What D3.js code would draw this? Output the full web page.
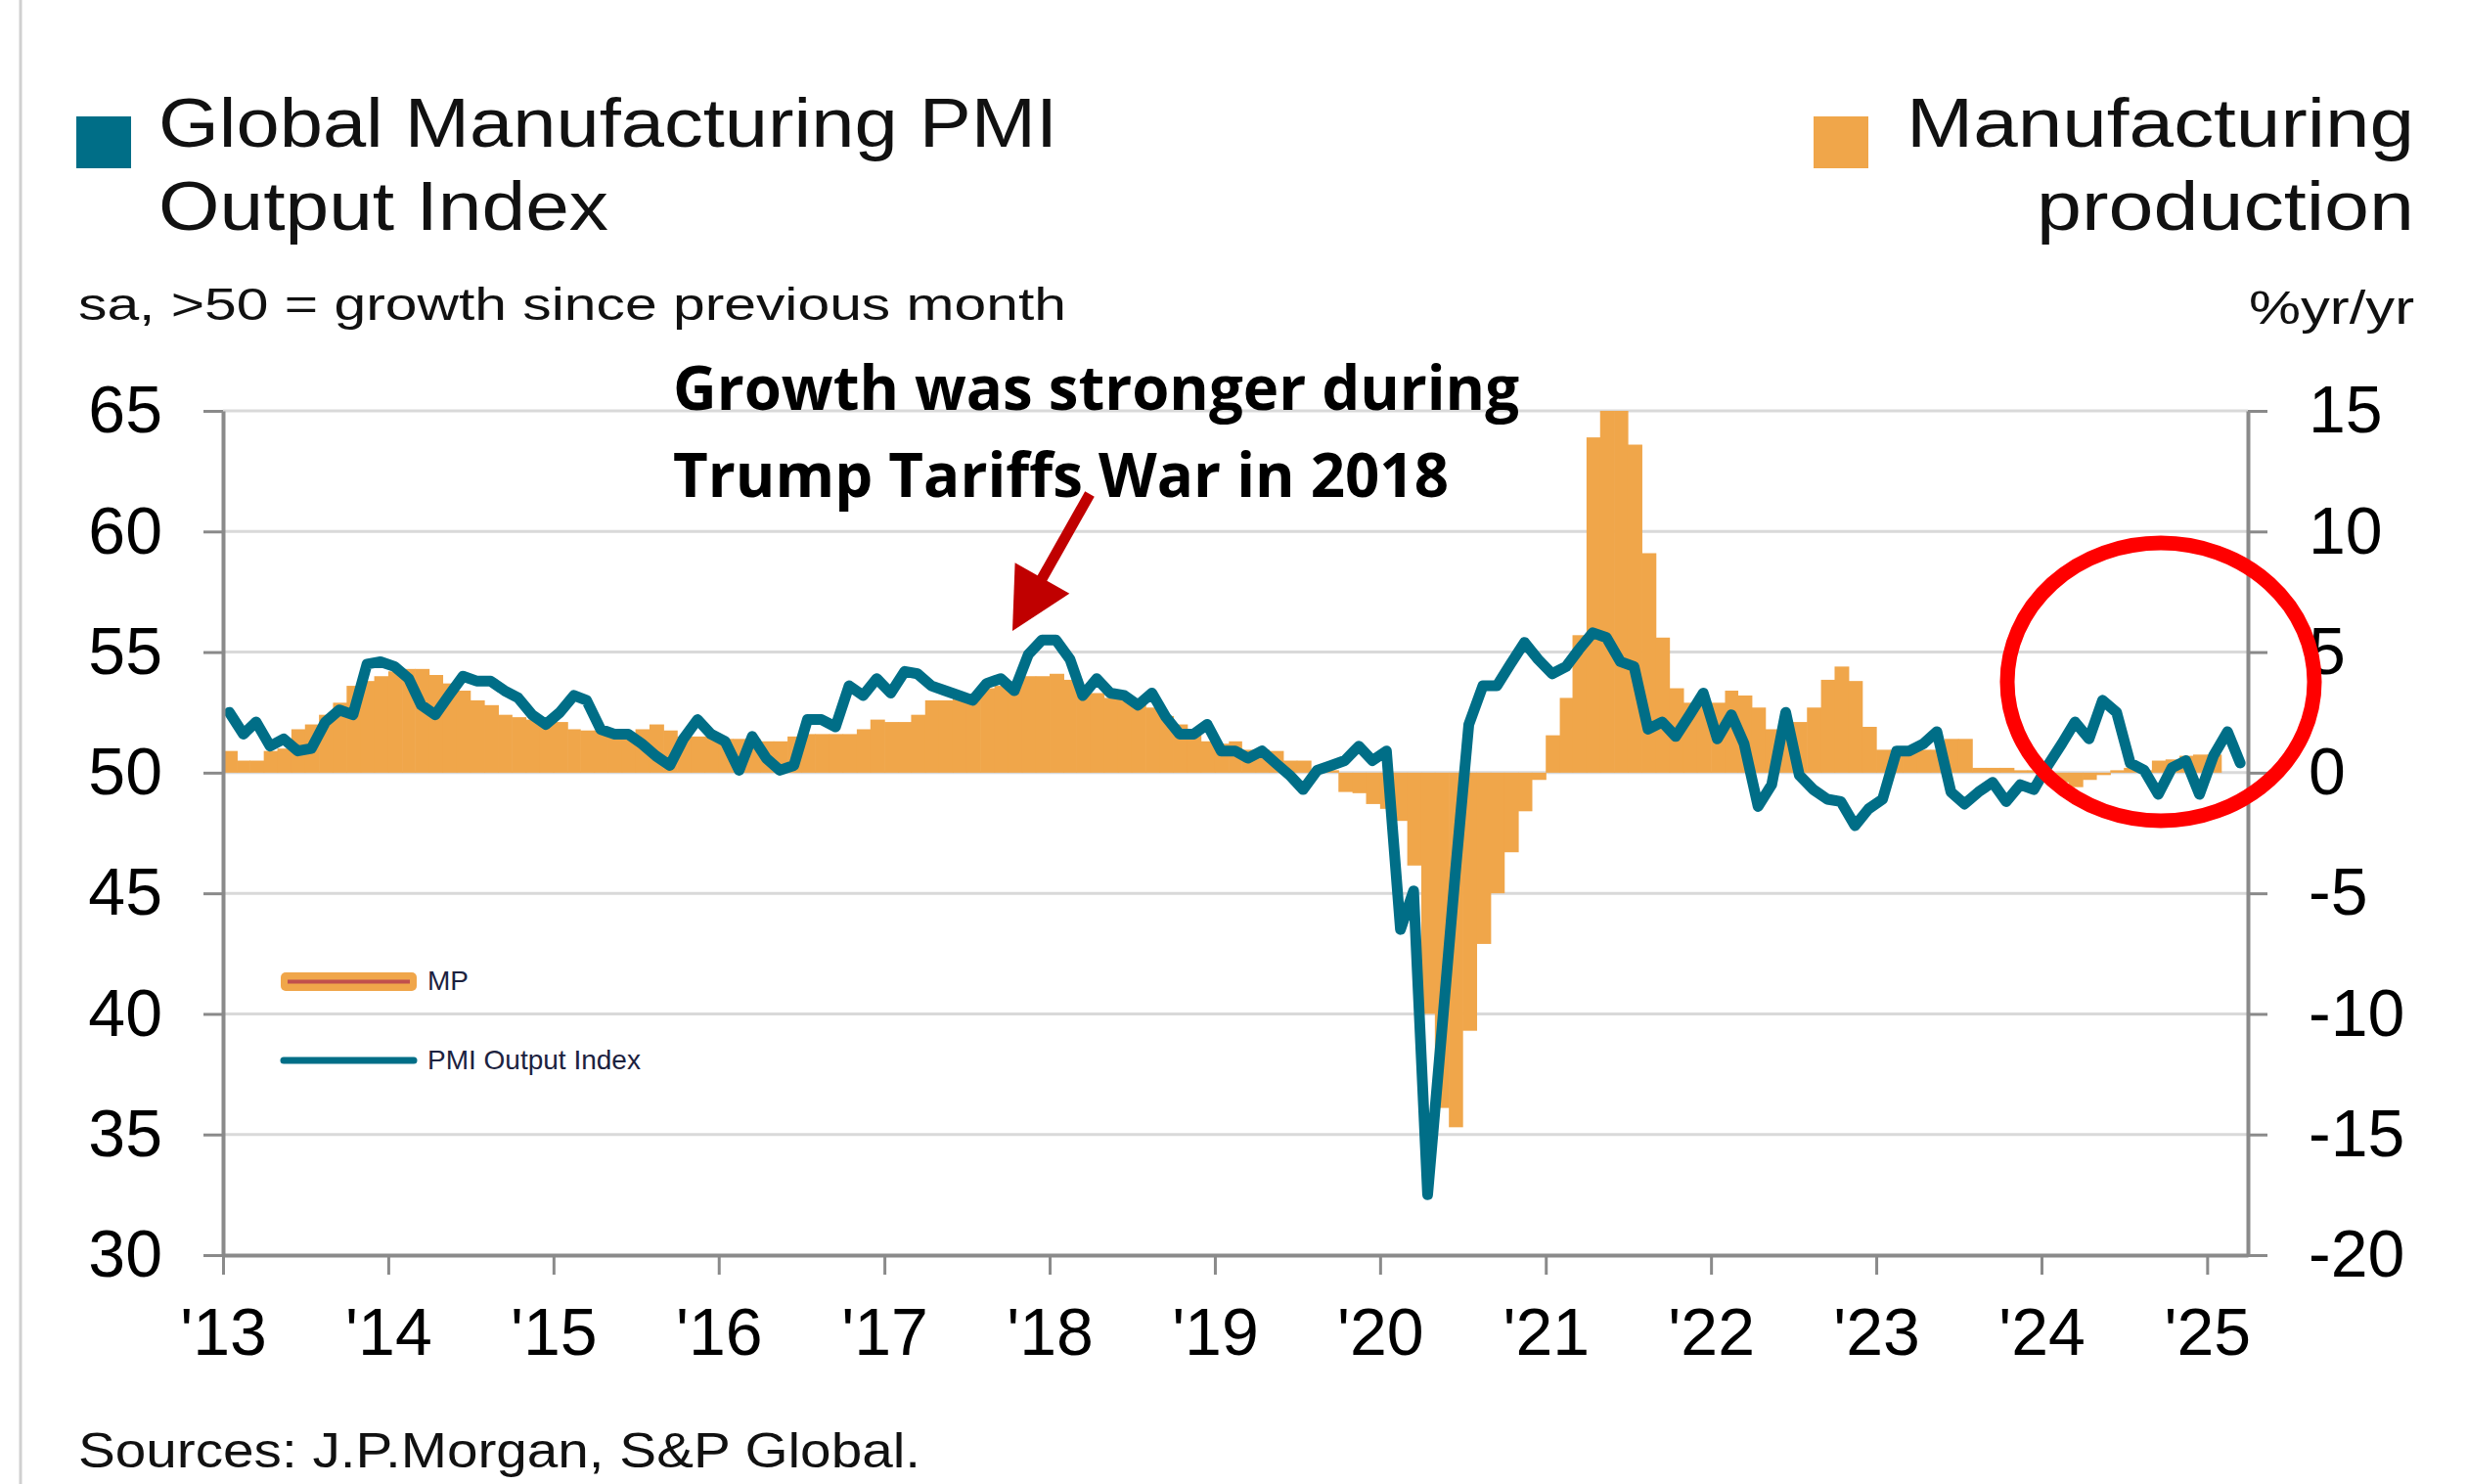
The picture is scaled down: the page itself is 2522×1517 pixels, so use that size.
<!DOCTYPE html>
<html>
<head>
<meta charset="utf-8">
<title>Global Manufacturing PMI Output Index vs Manufacturing production</title>
<script src="https://d3js.org/d3.v7.min.js"></script>
<style>
	html, body{margin:0;padding:0;background:#ffffff;}
	svg{display:block;}
	.tick text{font-family:"Liberation Sans", Arial, sans-serif;font-size:68px;fill:#000000;}
	.head{font-family:"Liberation Sans", Arial, sans-serif;fill:#111111;}
	.anno{font-family:"Open Sans", "Noto Sans", sans-serif;font-weight:700;fill:#000000;}
	.key{font-family:"Liberation Sans", Arial, sans-serif;font-size:28px;fill:#1c2240;}
</style>
</head>
<body>
<div id="PMIWrap"></div>
<script>
(function(){

	//DATA -- monthly, first value = Jan 2013
	var startYear = 2013;

	//J.P.Morgan Global Manufacturing PMI Output Index (sa, left axis), Jan 2013 - Mar 2025
	var pmiOutput = [
		52.5, 51.6, 52.1, 51.1, 51.4, 50.9, 51.0, 52.1, 52.6, 52.4, 54.5, 54.6,
		54.4, 53.9, 52.8, 52.4, 53.2, 54.0, 53.8, 53.8, 53.4, 53.1, 52.4, 52.0,
		52.5, 53.2, 53.0, 51.8, 51.6, 51.6, 51.2, 50.7, 50.3, 51.4, 52.2, 51.6,
		51.3, 50.1, 51.5, 50.6, 50.1, 50.3, 52.2, 52.2, 51.9, 53.6, 53.2, 53.9,
		53.3, 54.2, 54.1, 53.6, 53.4, 53.2, 53.0, 53.7, 53.9, 53.4, 54.9, 55.5,
		55.5, 54.7, 53.2, 53.9, 53.3, 53.2, 52.8, 53.3, 52.3, 51.6, 51.6, 52.0,
		50.9, 50.9, 50.6, 50.9, 50.4, 49.9, 49.3, 50.1, 50.3, 50.5, 51.1, 50.5,
		50.9, 43.5, 45.1, 32.5, 39.0, 45.8, 52.0, 53.6, 53.6, 54.5, 55.4, 54.7,
		54.1, 54.4, 55.1, 55.8, 55.6, 54.6, 54.4, 51.8, 52.1, 51.5, 52.4, 53.3,
		51.4, 52.4, 51.2, 48.6, 49.5, 52.5, 49.9, 49.3, 48.9, 48.8, 47.8, 48.5,
		48.9, 50.9, 50.9, 51.2, 51.7, 49.2, 48.7, 49.2, 49.6, 48.8, 49.5, 49.3,
		50.3, 51.2, 52.1, 51.4, 53.0, 52.5, 50.4, 50.1, 49.1, 50.2, 50.5, 49.1,
		50.7, 51.7, 50.4
	];

	//Manufacturing production, %yr/yr (right axis), Jan 2013 - Jan 2025
	var mfgProduction = [
		0.9, 0.5, 0.5, 0.9, 1.0, 1.8, 2.0, 2.4, 2.9, 3.6, 3.8, 4.0,
		4.2, 4.3, 4.3, 4.05, 3.7, 3.4, 3.0, 2.8, 2.4, 2.3, 2.2, 2.2,
		2.1, 1.8, 1.75, 1.75, 1.6, 1.6, 1.8, 2.0, 1.75, 1.5, 1.5, 1.5,
		1.4, 1.4, 1.4, 1.3, 1.3, 1.5, 1.6, 1.6, 1.6, 1.6, 1.8, 2.2,
		2.1, 2.1, 2.4, 3.0, 3.0, 3.2, 3.2, 3.5, 3.6, 3.6, 4.0, 4.0,
		4.1, 3.85, 3.45, 3.3, 3.1, 3.1, 3.0, 2.7, 2.35, 2.0, 1.6, 1.3,
		1.2, 1.3, 0.95, 0.95, 0.9, 0.5, 0.5, 0.1, 0.1, -0.8, -0.85, -1.3,
		-1.5, -2.0, -3.85, -10.0, -13.9, -14.7, -10.7, -7.1, -5.0, -3.3, -1.6, -0.3,
		1.55, 3.1, 5.7, 13.9, 15.0, 15.0, 13.6, 9.1, 5.6, 3.5, 2.9, 2.8,
		2.9, 3.4, 3.2, 2.7, 1.8, 2.1, 2.1, 2.7, 3.85, 4.4, 3.8, 1.9,
		0.95, 0.95, 0.95, 0.95, 0.95, 1.4, 1.4, 0.2, 0.2, 0.2, 0.1, 0.1,
		-0.2, -0.4, -0.6, -0.3, -0.1, 0.1, 0.2, 0.1, 0.5, 0.55, 0.7, 0.75,
		0.75
	];

	var leftTicks = [30, 35, 40, 45, 50, 55, 60, 65];
	var rightTicks = [-20, -15, -10, -5, 0, 5, 10, 15];
	var yearLabels = ["'13", "'14", "'15", "'16", "'17", "'18", "'19", "'20", "'21", "'22", "'23", "'24", "'25"];

	var COLORS = {pmi:"#006e87", mp:"#f0a64a", axis:"#8a8a8a", grid:"#d9d9d9", ring:"#ff0000", arrow:"#c00000"};

	var W = 2522, H = 1517;
	var PLOT = {left:228, right:2298, top:420, bottom:1283};

	var monthDate = function(i, day){
		return new Date(startYear, i, day);
	}

	var DOM = {};
	DOM.SVG = d3.select("#PMIWrap").append("svg").attr("width", W).attr("height", H);
	DOM.SVG.append("rect").attr("width", W).attr("height", H).attr("fill", "#ffffff");

	//page edge rule on the left
	DOM.SVG.append("line").attr("x1", 21).attr("x2", 21).attr("y1", 0).attr("y2", H)
		.attr("stroke", "#d0d0d0").attr("stroke-width", 3);

	var x = d3.scaleTime()
		.domain([monthDate(0, 1), monthDate(pmiOutput.length, 1)])
		.range([PLOT.left, PLOT.right]);
	var yL = d3.scaleLinear().domain([30, 65]).range([PLOT.bottom, PLOT.top]);
	var yR = d3.scaleLinear().domain([-20, 15]).range([PLOT.bottom, PLOT.top]);

	//GRID
	DOM.SVG.append("g").selectAll("line").data(leftTicks.filter(function(d){return d > 30}))
		.enter().append("line")
		.attr("x1", PLOT.left).attr("x2", PLOT.right)
		.attr("y1", function(d){return yL(d)}).attr("y2", function(d){return yL(d)})
		.attr("stroke", COLORS.grid).attr("stroke-width", 3);

	//BARS -- manufacturing production
	DOM.SVG.append("g").selectAll("rect").data(mfgProduction).enter().append("rect")
		.attr("x", function(d,i){return x(monthDate(i, 1))})
		.attr("width", function(d,i){return x(monthDate(i+1, 1)) - x(monthDate(i, 1)) + 0.6})
		.attr("y", function(d){return yR(Math.max(0, d))})
		.attr("height", function(d){return Math.abs(yR(d) - yR(0))})
		.attr("fill", COLORS.mp);

	//LINE -- PMI output, plotted mid-month
	var pmiLine = d3.line()
		.x(function(d,i){return x(monthDate(i, 15))})
		.y(function(d){return yL(d)});

	DOM.SVG.append("path").datum(pmiOutput)
		.attr("d", pmiLine)
		.attr("fill", "none")
		.attr("stroke", COLORS.pmi)
		.attr("stroke-width", 11)
		.attr("stroke-linejoin", "round")
		.attr("stroke-linecap", "round");

	//AXES
	var styleAxis = function(g){
		g.select(".domain").attr("stroke", COLORS.axis).attr("stroke-width", 4);
		g.selectAll(".tick line").attr("stroke", COLORS.axis).attr("stroke-width", 3);
	}
	var plain = function(d){return String(d)};

	DOM.SVG.append("g").attr("transform", "translate(" + PLOT.left + ",0)")
		.call(d3.axisLeft(yL).tickValues(leftTicks).tickSize(20).tickSizeOuter(0).tickPadding(42).tickFormat(plain))
		.call(styleAxis);

	DOM.SVG.append("g").attr("transform", "translate(" + PLOT.right + ",0)")
		.call(d3.axisRight(yR).tickValues(rightTicks).tickSize(20).tickSizeOuter(0).tickPadding(42).tickFormat(plain))
		.call(styleAxis);

	var yearTicks = yearLabels.map(function(d,i){return new Date(startYear + i, 0, 1)});
	DOM.SVG.append("g").attr("transform", "translate(0," + PLOT.bottom + ")")
		.call(d3.axisBottom(x).tickValues(yearTicks).tickSize(20).tickSizeOuter(0).tickPadding(34)
			.tickFormat(function(d,i){return yearLabels[i]}))
		.call(styleAxis);

	DOM.SVG.selectAll(".tick text").attr("fill", "#000000");

	//HEADERS
	var head = DOM.SVG.append("g");
	head.append("rect").attr("x", 78).attr("y", 119).attr("width", 56).attr("height", 53).attr("fill", COLORS.pmi);
	head.append("rect").attr("x", 1854).attr("y", 119).attr("width", 56).attr("height", 53).attr("fill", COLORS.mp);

	var heads = [
		{t:"Global Manufacturing PMI", x:162, y:150, s:70, w:919, a:"start"},
		{t:"Output Index", x:162, y:235, s:70, w:460, a:"start"},
		{t:"sa, >50 = growth since previous month", x:80, y:327, s:46, w:1010, a:"start"},
		{t:"Manufacturing", x:2468, y:150, s:70, w:519, a:"end"},
		{t:"production", x:2468, y:235, s:70, w:386, a:"end"},
		{t:"%yr/yr", x:2468, y:331, s:48, w:169, a:"end"},
		{t:"Sources: J.P.Morgan, S&P Global.", x:80, y:1500, s:50, w:861, a:"start"}
	];
	head.selectAll("text.head").data(heads).enter().append("text")
		.attr("class", "head")
		.attr("x", function(d){return d.x}).attr("y", function(d){return d.y})
		.attr("text-anchor", function(d){return d.a})
		.attr("textLength", function(d){return d.w})
		.attr("lengthAdjust", "spacingAndGlyphs")
		.style("font-size", function(d){return d.s + "px"})
		.text(function(d){return d.t});

	//KEY inside plot
	var key = DOM.SVG.append("g");
	key.append("rect").attr("x", 287).attr("y", 994).attr("width", 139).attr("height", 19).attr("rx", 5)
		.attr("fill", COLORS.mp);
	key.append("line").attr("x1", 294).attr("x2", 419).attr("y1", 1003.5).attr("y2", 1003.5)
		.attr("stroke", "#c0504d").attr("stroke-width", 4);
	key.append("line").attr("x1", 290).attr("x2", 423).attr("y1", 1084).attr("y2", 1084)
		.attr("stroke", COLORS.pmi).attr("stroke-width", 7).attr("stroke-linecap", "round");
	key.append("text").attr("class", "key").attr("x", 437).attr("y", 1012).text("MP");
	key.append("text").attr("class", "key").attr("x", 437).attr("y", 1093).text("PMI Output Index");

	//ANNOTATION
	var anno = DOM.SVG.append("g");
	anno.append("text").attr("class", "anno").attr("x", 688).attr("y", 419)
		.attr("textLength", 865).attr("lengthAdjust", "spacingAndGlyphs")
		.style("font-size", "63px").text("Growth was stronger during");
	anno.append("text").attr("class", "anno").attr("x", 688).attr("y", 508)
		.attr("textLength", 793).attr("lengthAdjust", "spacingAndGlyphs")
		.style("font-size", "63px").text("Trump Tariffs War in 2018");

	var tip = [1035, 645], tail = [1114, 505];
	var dx = tip[0] - tail[0], dy = tip[1] - tail[1];
	var len = Math.sqrt(dx*dx + dy*dy);
	var ux = dx/len, uy = dy/len;
	var headLen = 62, headHalf = 32;
	var base = [tip[0] - ux*headLen, tip[1] - uy*headLen];
	anno.append("line")
		.attr("x1", tail[0]).attr("y1", tail[1]).attr("x2", base[0] + ux*4).attr("y2", base[1] + uy*4)
		.attr("stroke", COLORS.arrow).attr("stroke-width", 11);
	anno.append("polygon")
		.attr("points", [tip, [base[0] - uy*headHalf, base[1] + ux*headHalf], [base[0] + uy*headHalf, base[1] - ux*headHalf]].join(" "))
		.attr("fill", COLORS.arrow);

	//red ring round the latest readings
	DOM.SVG.append("ellipse")
		.attr("cx", 2209).attr("cy", 697).attr("rx", 157).attr("ry", 142)
		.attr("fill", "none").attr("stroke", COLORS.ring).attr("stroke-width", 15);

})();
</script>
</body>
</html>
